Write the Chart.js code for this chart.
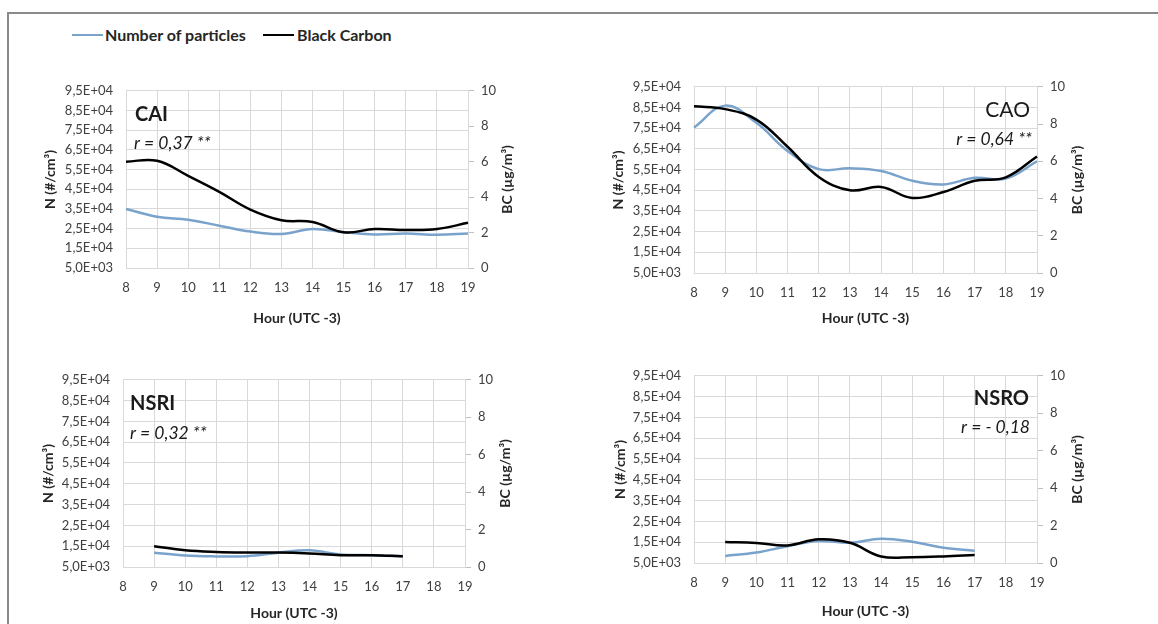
<!DOCTYPE html>
<html>
<head>
<meta charset="utf-8">
<script src="https://cdn.jsdelivr.net/npm/chart.js@4.4.1/dist/chart.umd.min.js"></script>
<style>
html, body { margin: 0; padding: 0; background: #fff; width: 1158px; height: 624px; overflow: hidden; }
#frame { position: absolute; left: 7px; top: 12px; width: 1300px; height: 800px;
         border-left: 2px solid #8a8a8a; border-top: 2px solid #8a8a8a; }
canvas { position: absolute; }
.sw { position: absolute; top: 34px; width: 31px; height: 0; border-top: 2.5px solid; }
.lt { position: absolute; top: 25px; font: bold 16px Lato, sans-serif; color: #262626; white-space: nowrap; }
</style>
</head>
<body>
<div id="frame"></div>
<div class="sw" style="left:72px;border-color:#7aa3cc"></div>
<div class="lt" style="left:105px">Number of particles</div>
<div class="sw" style="left:263px;border-color:#000"></div>
<div class="lt" style="left:297px">Black Carbon</div>

<canvas id="cai"></canvas>
<canvas id="cao"></canvas>
<canvas id="nsri"></canvas>
<canvas id="nsro"></canvas>

<script>
// hours on the x axis
const hours = ['8', '9', '10', '11', '12', '13', '14', '15', '16', '17', '18', '19'];

// number of particles (#/cm3) and black carbon (ug/m3)
const caiParticles = [35000, 31000, 29500, 26500, 23500, 22300, 24800, 23200, 22000, 22500, 21900, 22500];
const caiBC = [6.0, 6.05, 5.2, 4.3, 3.3, 2.7, 2.6, 2.02, 2.2, 2.15, 2.2, 2.55];

const caoParticles = [75300, 85900, 77600, 64000, 55200, 55600, 54300, 49600, 47800, 51000, 50600, 59000];
const caoBC = [8.95, 8.8, 8.24, 6.78, 5.16, 4.44, 4.62, 4.03, 4.35, 4.95, 5.14, 6.26];

const nsriParticles = [null, 11900, 10500, 10100, 10200, 11900, 13000, 11000, 10700, 10100, null, null];
const nsriBC = [null, 1.11, 0.89, 0.8, 0.77, 0.77, 0.72, 0.63, 0.63, 0.57, null, null];

const nsroParticles = [null, 8400, 10000, 13100, 15600, 14700, 16700, 15200, 12300, 10900, null, null];
const nsroBC = [null, 1.12, 1.07, 0.94, 1.27, 1.08, 0.35, 0.31, 0.35, 0.43, null, null];

// axis ranges
const nMin = 5000, nMax = 95000, nStep = 10000;
const bcMin = 0, bcMax = 10, bcStep = 2;

const tickFont = { family: 'Lato', size: 13 };
const titleFont = { family: 'Lato', size: 14, weight: 'bold' };
const gridColor = '#d9d9d9';

// 9,5E+04 style labels
function sciLabel(v) {
    const e = Math.floor(Math.log10(v) + 1e-9);
    const m = v / Math.pow(10, e);
    return m.toFixed(1).replace('.', ',') + 'E+' + String(e).padStart(2, '0');
}

// correlation notes and the right-hand axis title (Excel writes it bottom to top)
const panelText = {
    id: 'panelText',
    afterDraw(chart, args, opts) {
        const { ctx, chartArea: a } = chart;
        ctx.save();
        ctx.textBaseline = 'middle';
        ctx.fillStyle = '#1a1a1a';
        (opts.notes || []).forEach(n => {
            ctx.font = n.font;
            ctx.textAlign = n.align;
            const x = n.align === 'left' ? a.left + n.dx : a.right - n.dx;
            ctx.fillText(n.text, x, a.top + n.dy);
        });
        const s = chart.scales.y1;
        ctx.translate(s.right - 12, (a.top + a.bottom) / 2);
        ctx.rotate(-Math.PI / 2);
        ctx.font = 'bold 14px Lato';
        ctx.textAlign = 'center';
        ctx.fillStyle = '#262626';
        ctx.fillText('BC (µg/m³)', 0, 0);
        ctx.restore();
    }
};

function makePanel(id, box, plot, particles, bc, notes) {
    const cv = document.getElementById(id);
    cv.width = box.right - box.left;
    cv.height = box.bottom - box.top;
    cv.style.left = box.left + 'px';
    cv.style.top = box.top + 'px';

    const leftW = plot.left - box.left;
    const rightW = box.right - plot.right;
    const bottomH = box.bottom - plot.bottom;

    return new Chart(cv.getContext('2d'), {
        type: 'line',
        data: {
            labels: hours,
            datasets: [{
                label: 'Number of particles',
                data: particles,
                yAxisID: 'y',
                borderColor: '#7aa3cc',
                borderWidth: 2.5,
                pointRadius: 0,
                tension: 0.4,
                order: 2
            }, {
                label: 'Black Carbon',
                data: bc,
                yAxisID: 'y1',
                borderColor: '#000000',
                borderWidth: 2.5,
                pointRadius: 0,
                tension: 0.4,
                order: 1
            }]
        },
        options: {
            responsive: false,
            animation: false,
            devicePixelRatio: 1,
            layout: { padding: { top: plot.top - box.top, left: 0, right: 0, bottom: 0 } },
            plugins: {
                legend: { display: false },
                tooltip: { enabled: false },
                panelText: { notes: notes }
            },
            scales: {
                x: {
                    offset: false,
                    grid: { color: gridColor, drawTicks: false },
                    border: { color: gridColor },
                    ticks: { font: tickFont, color: '#404040', padding: 12, maxRotation: 0, autoSkip: false },
                    title: { display: true, text: 'Hour (UTC -3)', font: titleFont, color: '#262626', padding: { top: 0, bottom: 4 } },
                    afterFit: s => { s.height = bottomH; }
                },
                y: {
                    position: 'left',
                    min: nMin, max: nMax,
                    grid: { color: gridColor, drawTicks: false },
                    border: { color: gridColor },
                    ticks: { stepSize: nStep, font: tickFont, color: '#404040', padding: 13, callback: v => sciLabel(v) },
                    title: { display: true, text: 'N (#/cm³)', font: titleFont, color: '#262626', padding: { top: 4, bottom: 0 } },
                    afterFit: s => { s.width = leftW; }
                },
                y1: {
                    position: 'right',
                    min: bcMin, max: bcMax,
                    grid: { drawOnChartArea: false, drawTicks: true, tickLength: 6, color: '#bfbfbf' },
                    border: { color: gridColor },
                    ticks: { stepSize: bcStep, font: tickFont, color: '#404040', padding: 7 },
                    afterFit: s => { s.width = rightW; }
                }
            }
        },
        plugins: [panelText]
    });
}

makePanel('cai',
    { left: 38, right: 519, top: 70, bottom: 331 },
    { left: 126, right: 468, top: 83, bottom: 268 },
    caiParticles, caiBC,
    [{ text: 'CAI', font: 'bold 20px Lato', align: 'left', dx: 9, dy: 24 },
     { text: 'r = 0,37 **', font: 'italic 17.5px Lato', align: 'left', dx: 8, dy: 53 }]);

makePanel('cao',
    { left: 606, right: 1089, top: 66, bottom: 331 },
    { left: 694, right: 1037, top: 79, bottom: 273 },
    caoParticles, caoBC,
    [{ text: 'CAO', font: '21px Lato', align: 'right', dx: 7, dy: 23 },
     { text: 'r = 0,64 **', font: 'italic 17.5px Lato', align: 'right', dx: 5, dy: 53 }]);

makePanel('nsri',
    { left: 36, right: 517, top: 359, bottom: 626 },
    { left: 123, right: 465, top: 372, bottom: 567 },
    nsriParticles, nsriBC,
    [{ text: 'NSRI', font: 'bold 20px Lato', align: 'left', dx: 7, dy: 24 },
     { text: 'r = 0,32 **', font: 'italic 17.5px Lato', align: 'left', dx: 7, dy: 54 }]);

makePanel('nsro',
    { left: 608, right: 1089, top: 355, bottom: 624 },
    { left: 694, right: 1037, top: 368, bottom: 563 },
    nsroParticles, nsroBC,
    [{ text: 'NSRO', font: 'bold 20px Lato', align: 'right', dx: 8, dy: 23 },
     { text: 'r = - 0,18', font: 'italic 17.5px Lato', align: 'right', dx: 7, dy: 52 }]);
</script>
</body>
</html>
